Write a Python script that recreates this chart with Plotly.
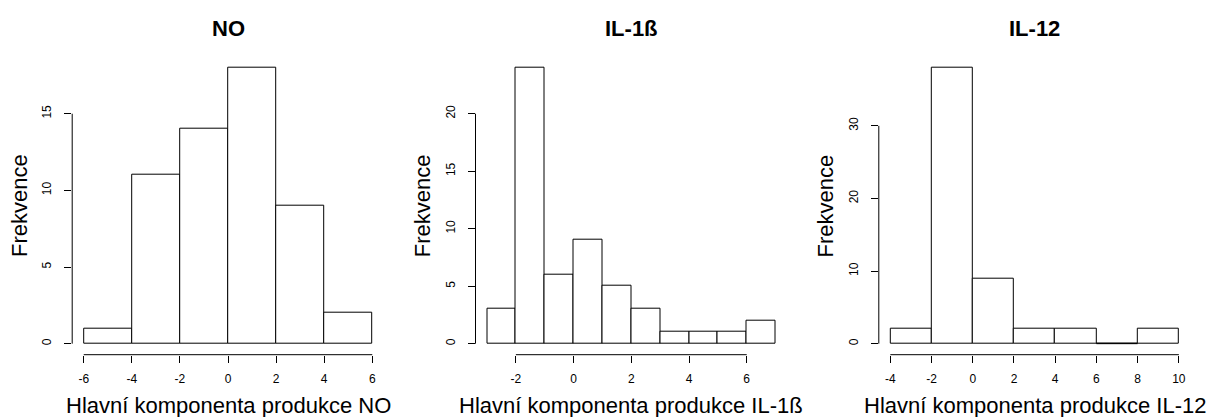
import plotly.graph_objects as go

W, H = 1212, 417
FONT = "Liberation Sans, Arial, sans-serif"

titles = ["NO", "IL-1ß", "IL-12"]
xlabels = ["Hlavní komponenta produkce NO", "Hlavní komponenta produkce IL-1ß",
           "Hlavní komponenta produkce IL-12"]

no_edges = [-6, -4, -2, 0, 2, 4, 6]
no_counts = [1, 11, 14, 18, 9, 2]
il1b_edges = [-3, -2, -1, 0, 1, 2, 3, 4, 5, 6, 7]
il1b_counts = [3, 24, 6, 9, 5, 3, 1, 1, 1, 2]
il12_edges = [-4, -2, 0, 2, 4, 6, 8, 10]
il12_counts = [2, 38, 9, 2, 2, 0, 2]

no_xticks = [-6, -4, -2, 0, 2, 4, 6]
il1b_xticks = [-2, 0, 2, 4, 6]
il12_xticks = [-4, -2, 0, 2, 4, 6, 8, 10]
no_yticks = [0, 5, 10, 15]
il1b_yticks = [0, 5, 10, 15, 20]
il12_yticks = [0, 10, 20, 30]

panels = [
    (no_edges, no_counts, no_xticks, no_yticks),
    (il1b_edges, il1b_counts, il1b_xticks, il1b_yticks),
    (il12_edges, il12_counts, il12_xticks, il12_yticks),
]

# pixel layout of plot regions
lefts = [72.2, 475.5, 878.8]
pw = 311.6
ptop, pbot = 56.7, 354.7

fig = go.Figure()
shapes = []
annotations = []
layout = {}
for i, (edges, counts, xt, yt) in enumerate(panels):
    n = "" if i == 0 else str(i + 1)
    xa, ya = "x" + n, "y" + n
    centers = [(a + b) / 2 for a, b in zip(edges[:-1], edges[1:])]
    widths = [b - a for a, b in zip(edges[:-1], edges[1:])]
    fig.add_trace(go.Bar(
        x=centers, y=counts, width=widths, xaxis=xa, yaxis=ya,
        marker=dict(color="white", line=dict(color="black", width=1)),
        showlegend=False, hoverinfo="skip"))
    # zero-count bins drawn as a flat outline
    for c, w, v in zip(centers, widths, counts):
        if v == 0:
            shapes.append(dict(type="line", xref=xa, yref=ya, x0=c - w / 2, x1=c + w / 2,
                               y0=0, y1=0, line=dict(color="black", width=1)))
    xmin, xmax = edges[0], edges[-1]
    span = xmax - xmin
    ymax = max(counts)
    d0 = lefts[i] / W
    d1 = (lefts[i] + pw) / W
    layout["xaxis" + n] = dict(
        domain=[d0, d1], range=[xmin - 0.04 * span, xmax + 0.04 * span],
        anchor=ya, tickvals=xt, ticktext=[str(t) for t in xt],
        ticks="outside", ticklen=7, tickwidth=1, tickcolor="black",
        showline=False, showgrid=False, zeroline=False,
        tickfont=dict(family=FONT, size=12, color="black"),
        ticklabelstandoff=6, fixedrange=True)
    layout["yaxis" + n] = dict(
        domain=[1 - pbot / H, 1 - ptop / H], range=[-0.04 * ymax, 1.04 * ymax],
        anchor=xa, tickvals=yt, ticktext=[str(t) for t in yt],
        ticks="outside", ticklen=7, tickwidth=1, tickcolor="black",
        showline=False, showgrid=False, zeroline=False, tickangle=-90,
        tickfont=dict(family=FONT, size=12, color="black"),
        ticklabelstandoff=8, fixedrange=True)
    # R-style axis lines spanning the tick range
    shapes.append(dict(type="line", xref=xa, yref=ya + " domain", x0=xt[0], x1=xt[-1],
                       y0=0, y1=0, line=dict(color="black", width=1)))
    shapes.append(dict(type="line", xref=xa + " domain", yref=ya, x0=0, x1=0,
                       y0=yt[0], y1=yt[-1], line=dict(color="black", width=1)))
    cx = (lefts[i] + pw / 2) / W
    annotations.append(dict(text="<b>" + titles[i] + "</b>", xref="paper", yref="paper",
                            x=cx, y=1 - 28 / H, showarrow=False, xanchor="center", yanchor="middle",
                            font=dict(family=FONT, size=22, color="black")))
    annotations.append(dict(text=xlabels[i], xref="paper", yref="paper",
                            x=cx, y=1 - 405 / H, showarrow=False, xanchor="center", yanchor="middle",
                            font=dict(family=FONT, size=22, color="black")))
    annotations.append(dict(text="Frekvence", xref="paper", yref="paper",
                            x=(lefts[i] - 53) / W, y=1 - ((ptop + pbot) / 2) / H, textangle=-90,
                            showarrow=False, xanchor="center", yanchor="middle",
                            font=dict(family=FONT, size=22, color="black")))

fig.update_layout(
    width=W, height=H, margin=dict(l=0, r=0, t=0, b=0),
    paper_bgcolor="white", plot_bgcolor="white",
    shapes=shapes, annotations=annotations, bargap=0, **layout)

fig.write_html("out.html")
